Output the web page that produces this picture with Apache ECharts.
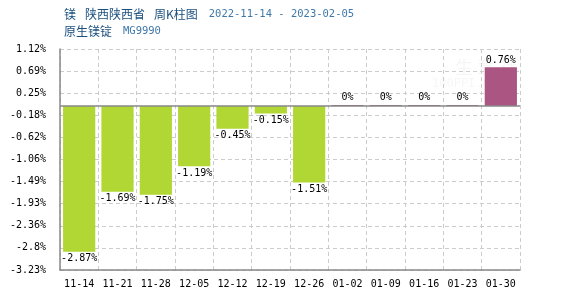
<!DOCTYPE html>
<html>
<head>
<meta charset="utf-8">
<script src="https://cdn.jsdelivr.net/npm/echarts@6/dist/echarts.min.js"></script>
<style>
  html, body { margin: 0; padding: 0; background: #fff; }
  #chart { width: 570px; height: 300px; }
</style>
</head>
<body>
<div id="chart"></div>
<script>
const weeks = ["11-14", "11-21", "11-28", "12-05", "12-12", "12-19", "12-26", "01-02", "01-09", "01-16", "01-23", "01-30"];
const changes = [-2.87, -1.69, -1.75, -1.19, -0.45, -0.15, -1.51, 0, 0, 0, 0, 0.76];
const yTicks = ["-3.23", "-2.8", "-2.36", "-1.93", "-1.49", "-1.06", "-0.62", "-0.18", "0.25", "0.69", "1.12"];
const yMin = -3.23;
const yMax = 1.12;
const yStep = 0.435;

const monoFont = "DejaVu Sans Mono";
const cjkFont = "Noto Sans CJK SC";
const titleColor = "#1a4f7e";

let chart = echarts.init(document.getElementById('chart'));
let option = {
   animation: false,
   title: {
      text: "{cn|镁}{gap|陕西陕西省}{gap|周K柱图}{num|2022-11-14 - 2023-02-05}",
      subtext: "{cn|原生镁锭}{num2|MG9990}",
      left: 59,
      top: 3,
      itemGap: 5,
      textStyle: {
         fontWeight: "normal",
         rich: {
            cn: { fontFamily: cjkFont, fontSize: 12, color: titleColor },
            gap: { fontFamily: cjkFont, fontSize: 12, color: titleColor, padding: [0, 0, 0, 9] },
            num: { fontFamily: monoFont, fontSize: 10.5, color: "#3f78a8", padding: [0, 0, 0, 11] }
         }
      },
      subtextStyle: {
         rich: {
            cn: { fontFamily: cjkFont, fontSize: 12, color: titleColor },
            num2: { fontFamily: monoFont, fontSize: 10.5, color: "#3f78a8", padding: [0, 0, 0, 11] }
         }
      }
   },
   graphic: [
      {
         type: "text",
         left: 455,
         top: 58,
         style: { text: "生 意 社", fontSize: 18, fontFamily: cjkFont, fill: "rgba(0,0,0,0.04)" }
      },
      {
         type: "text",
         left: 432,
         top: 78,
         style: { text: "100PPI.COM", fontSize: 12, fontFamily: monoFont, fill: "rgba(0,0,0,0.04)" }
      }
   ],
   grid: {
      left: 60,
      right: 50,
      top: 49,
      bottom: 30,
      show: true,
      borderWidth: 0
   },
   xAxis: {
      type: "category",
      data: weeks,
      position: "bottom",
      axisLine: { show: true, onZero: false, lineStyle: { color: "#888", width: 1.5 } },
      axisTick: { show: false },
      axisLabel: { interval: 0, fontFamily: monoFont, fontSize: 10, color: "#000", margin: 9 },
      splitLine: { show: true, interval: 0, lineStyle: { color: "#ccc", type: [4, 3] } }
   },
   yAxis: {
      type: "value",
      min: yMin,
      max: yMax,
      interval: yStep,
      axisLine: { show: true, lineStyle: { color: "#888", width: 1.5 } },
      axisTick: { show: false },
      axisLabel: {
         fontFamily: monoFont,
         fontSize: 10,
         color: "#000",
         margin: 14,
         formatter: function (v) {
            let i = Math.round((v - yMin) / yStep);
            return yTicks[i] + "%";
         }
      },
      splitLine: { show: true, lineStyle: { color: "#ccc", type: [4, 3] } }
   },
   series: [
      {
         type: "bar",
         data: changes.map((v) => ({
            value: v,
            itemStyle: { color: v >= 0 ? "#aa5582" : "#b1d735" },
            label: { position: v >= 0 ? "top" : "bottom" }
         })),
         barWidth: "84%",
         barMinHeight: 1,
         label: {
            show: true,
            fontFamily: monoFont,
            fontSize: 10,
            color: "#000",
            distance: 2,
            formatter: (p) => p.value + "%"
         },
         markLine: {
            silent: true,
            symbol: ["none", "none"],
            label: { show: false },
            lineStyle: { color: "#888", type: "solid", width: 1.5 },
            data: [{ yAxis: 0 }]
         }
      }
   ]
};
chart.setOption(option);
</script>
</body>
</html>
